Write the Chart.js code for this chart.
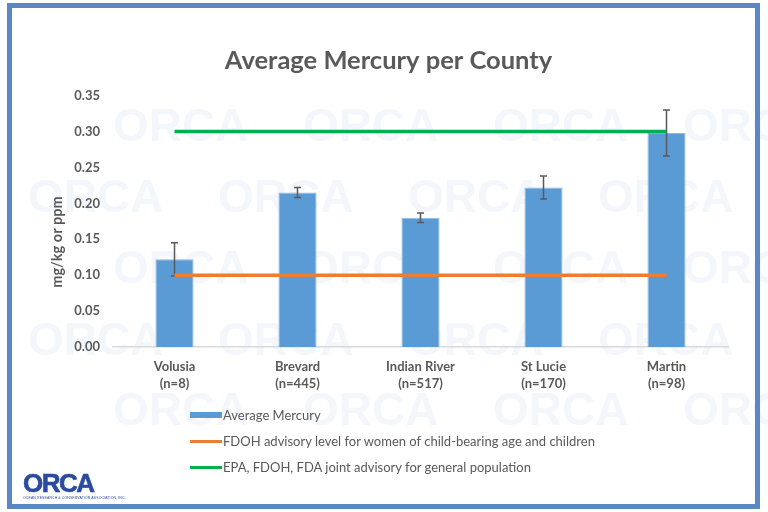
<!DOCTYPE html>
<html>
<head>
<meta charset="utf-8">
<script src="https://cdn.jsdelivr.net/npm/chart.js@4"></script>
<style>
    body { margin: 0; background: #fff; }
    #wrap { position: relative; width: 768px; height: 512px; overflow: hidden; }
    #frame { position: absolute; left: 7px; top: 3px; width: 753px; height: 506px; box-sizing: border-box; border: 5px solid #5B87C5; pointer-events: none; }
    #legend { position: absolute; left: 190px; top: 402px; font-family: Lato, sans-serif; font-size: 13px; color: #595959; }
    #legend div { display: flex; align-items: center; height: 26px; }
    #legend span.sw { display: inline-block; width: 32px; margin-right: 1px; }
    #logo { position: absolute; left: 23px; top: 471px; font-family: "Liberation Sans", Arial, sans-serif; color: #2B4C9E; }
    #logo .big { font-size: 26px; font-weight: 900; letter-spacing: -1.5px; line-height: 25px; -webkit-text-stroke: 0.6px #2B4C9E; }
    #logo .small { font-size: 3.5px; line-height: 4px; letter-spacing: 0.1px; }
</style>
</head>
<body>
<div id="wrap">
    <canvas id="mercury" width="768" height="512"></canvas>
    <div id="legend"></div>
    <div id="logo"><div class="big">ORCA</div><div class="small">OCEAN RESEARCH &amp; CONSERVATION ASSOCIATION, INC.</div></div>
    <div id="frame"></div>
</div>
<script>
const counties = [['Volusia', '(n=8)'], ['Brevard', '(n=445)'], ['Indian River', '(n=517)'], ['St Lucie', '(n=170)'], ['Martin', '(n=98)']];
const avgMercury = [0.122, 0.215, 0.180, 0.222, 0.298];
const errMercury = [0.023, 0.007, 0.0065, 0.016, 0.032];
const fdohLevel = [0.10, 0.10, 0.10, 0.10, 0.10];
const jointLevel = [0.30, 0.30, 0.30, 0.30, 0.30];
const yTicks = [0, 0.05, 0.10, 0.15, 0.20, 0.25, 0.30, 0.35];
const yTitle = 'mg/kg or ppm';

const grey = '#595959';
const font = 'Lato, sans-serif';

// faint ORCA watermark behind the plot, plus the y axis title
const watermark = {
    id: 'watermark',
    beforeDraw(chart) {
        const ctx = chart.ctx;
        ctx.save();
        ctx.font = 'bold 46px "Liberation Sans", Arial, sans-serif';
        ctx.fillStyle = '#F3F7FC';
        ctx.textBaseline = 'middle';
        const rows = [128, 199, 270, 342, 412];
        rows.forEach((y, r) => {
            const start = r % 2 === 0 ? 113 : 28;
            for (let x = start; x < 768; x += 190) ctx.fillText('ORCA', x, y);
        });
        ctx.restore();
    },
    afterDraw(chart) {
        const ctx = chart.ctx;
        ctx.save();
        ctx.translate(57, 242);
        ctx.rotate(-Math.PI / 2);
        ctx.font = `bold 14.5px ${font}`;
        ctx.fillStyle = grey;
        ctx.textAlign = 'center';
        ctx.textBaseline = 'middle';
        ctx.fillText(yTitle, 0, 0);
        ctx.restore();
    }
};

// error bars on the average mercury bars
const errorBars = {
    id: 'errorBars',
    afterDatasetDraw(chart, args) {
        if (args.index !== 0) return;
        const ctx = chart.ctx;
        const y = chart.scales.y;
        ctx.save();
        ctx.strokeStyle = grey;
        ctx.lineWidth = 1.5;
        args.meta.data.forEach((bar, i) => {
            const top = y.getPixelForValue(avgMercury[i] + errMercury[i]);
            const bot = y.getPixelForValue(avgMercury[i] - errMercury[i]);
            ctx.beginPath();
            ctx.moveTo(bar.x, top); ctx.lineTo(bar.x, bot);
            ctx.moveTo(bar.x - 3.5, top); ctx.lineTo(bar.x + 3.5, top);
            ctx.moveTo(bar.x - 3.5, bot); ctx.lineTo(bar.x + 3.5, bot);
            ctx.stroke();
        });
        ctx.restore();
    }
};

const chart = new Chart(document.getElementById('mercury'), {
    type: 'bar',
    data: {
        labels: counties,
        datasets: [{
            label: 'Average Mercury',
            data: avgMercury,
            backgroundColor: '#5B9BD5',
            borderColor: '#8DB9E4',
            borderWidth: 1,
            categoryPercentage: 1,
            barPercentage: 0.31,
            order: 3
        }, {
            type: 'line',
            label: 'FDOH advisory level for women of child-bearing age and children',
            data: fdohLevel,
            borderColor: '#ED7D31',
            backgroundColor: '#ED7D31',
            borderWidth: 3.5,
            pointRadius: 0,
            order: 2
        }, {
            type: 'line',
            label: 'EPA, FDOH, FDA joint advisory for general population',
            data: jointLevel,
            borderColor: '#00B050',
            backgroundColor: '#00B050',
            borderWidth: 3.5,
            pointRadius: 0,
            order: 1
        }]
    },
    options: {
        responsive: false,
        animation: false,
        layout: { padding: { left: 49, right: 40, top: 0, bottom: 115 } },
        plugins: {
            legend: { display: false },
            tooltip: { enabled: false },
            title: {
                display: true,
                text: 'Average Mercury per County',
                color: grey,
                font: { family: font, size: 25.5, weight: 'bold' },
                padding: { top: 45, bottom: 20 }
            }
        },
        scales: {
            x: {
                grid: { display: false },
                border: { color: '#D9D9D9', width: 1.5 },
                ticks: { color: grey, padding: 3, font: { family: font, size: 13, weight: 'bold', lineHeight: 1.3 }, maxRotation: 0 },
                afterFit(scale) { scale.height = 50; }
            },
            y: {
                min: 0,
                max: 0.35,
                afterBuildTicks(scale) { scale.ticks = yTicks.map(v => ({ value: v })); },
                grid: { display: false, drawTicks: false },
                border: { display: false },
                ticks: { color: grey, padding: 13, font: { family: font, size: 13, weight: 'bold' }, callback: v => v.toFixed(2) },
                afterFit(scale) { scale.width = 64; }
            }
        }
    },
    plugins: [watermark, errorBars]
});

// legend stacked one per row, as in the original
let html = '';
chart.data.datasets.forEach((ds, i) => {
    const h = i === 0 ? 6 : 3;
    html += `<div><span class="sw" style="height:${h}px;background:${ds.backgroundColor}"></span>${ds.label}</div>`;
});
document.getElementById('legend').innerHTML = html;
</script>
</body>
</html>
